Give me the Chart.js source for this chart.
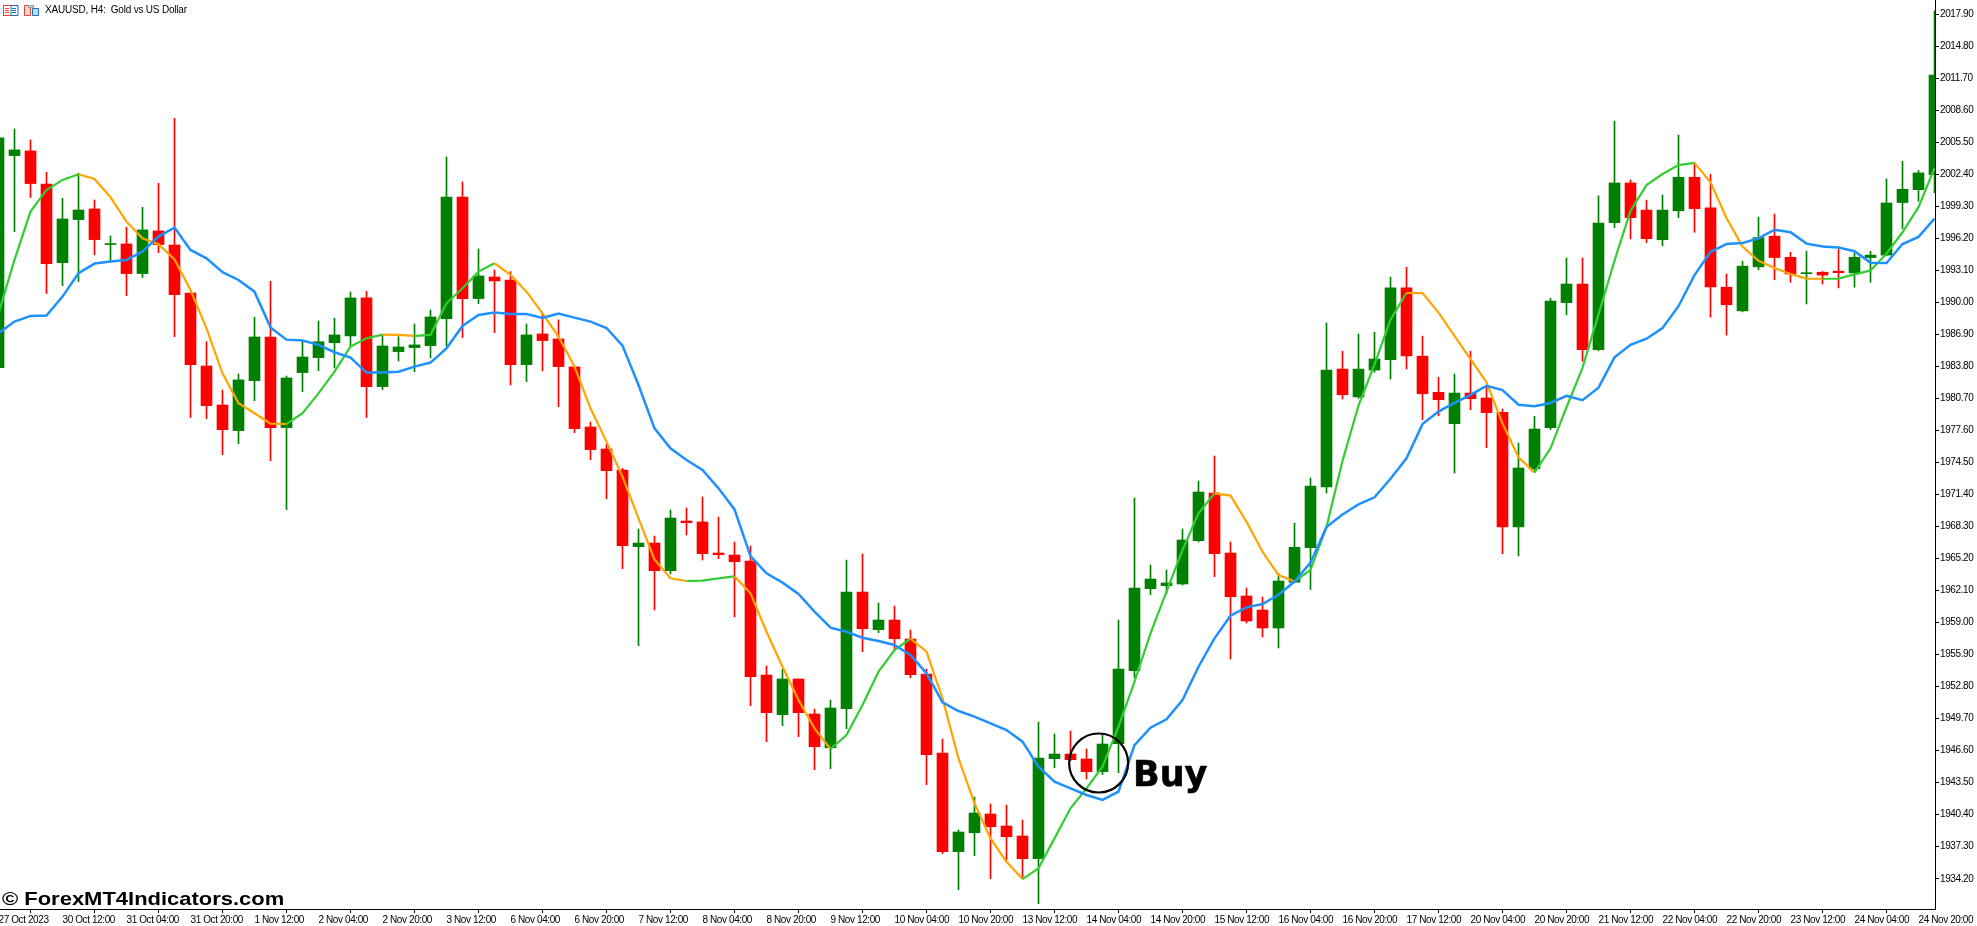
<!DOCTYPE html>
<html>
<head>
  <title>XAUUSD, H4</title>
  <script src="https://cdn.jsdelivr.net/npm/chart.js"></script>
  <style>
    body { margin: 0; background: #fff; }
    #wrap { position: relative; width: 1977px; height: 926px; overflow: hidden; }
    canvas { position: absolute; left: 0; top: 0; }
    #head { position: absolute; left: 45px; top: 4px; font: 10px "Liberation Sans", sans-serif; letter-spacing: -0.2px; color: #000; white-space: pre; }
    #icons { position: absolute; left: 3px; top: 5px; }
    #buy { position: absolute; left: 1133px; top: 754px; font: bold 35px "DejaVu Sans", sans-serif; color: #000; -webkit-text-stroke: 0.6px #000; }
    #mark { position: absolute; left: 2px; top: 888px; font: bold 19px "Liberation Sans", sans-serif; color: #000; white-space: pre; transform: scaleX(1.156); transform-origin: left; }
  </style>
</head>
<body>
  <div id="wrap">
    <canvas id="chart" width="1977" height="926"></canvas>
    <svg id="icons" width="38" height="12">
      <rect x="0.5" y="0.5" width="14" height="10" fill="#fff" stroke="#e8412f"/>
      <path d="M8 0.5h7v10h-7z" fill="#fff" stroke="#1a6fb5"/>
      <path d="M2 3.5h4M2 5.5h4M2 7.5h4" stroke="#e8412f"/>
      <path d="M9 3.5h4M9 5.5h4M9 7.5h4" stroke="#1a6fb5"/>
      <path d="M21.5 0.5h6v10h-6z" fill="#fbd5cf" stroke="#e8412f"/>
      <path d="M29.5 3.5h6v7h-6z" fill="#bcdcf3" stroke="#1a6fb5"/>
      <rect x="25.5" y="0.5" width="5" height="2" fill="#ddd" stroke="#999"/>
    </svg>
    <div id="head">XAUUSD, H4:  Gold vs US Dollar</div>
    <div id="buy">Buy</div>
    <div id="mark">© ForexMT4Indicators.com</div>
  </div>

  <script>
    const opens = [
      1983.71, 2004.25, 2004.70, 2001.50, 1993.88, 1998.05, 1999.08, 1995.63, 1995.69, 1992.82,
      1996.95, 1995.59, 1990.94, 1983.87, 1980.09, 1977.61, 1982.45, 1986.68, 1977.90, 1983.23,
      1984.68, 1986.13, 1986.78, 1990.46, 1981.87, 1985.26, 1985.65, 1985.84, 1988.46, 2000.24,
      1990.40, 1992.49, 1992.20, 1984.00, 1986.97, 1986.49, 1983.78, 1977.96, 1975.83, 1973.79,
      1966.37, 1966.72, 1964.04, 1968.85, 1968.76, 1965.75, 1965.56, 1964.98, 1953.93, 1950.09,
      1953.55, 1950.16, 1946.89, 1950.67, 1961.97, 1958.33, 1959.26, 1957.42, 1954.03, 1946.38,
      1936.82, 1938.66, 1940.47, 1939.31, 1938.34, 1936.14, 1945.83, 1946.28, 1945.80, 1944.57,
      1947.28, 1954.35, 1962.30, 1962.59, 1962.75, 1966.95, 1971.56, 1965.75, 1961.59, 1960.23,
      1958.49, 1962.92, 1966.27, 1972.15, 1983.57, 1980.87, 1983.47, 1984.47, 1991.43, 1984.82,
      1981.32, 1978.28, 1981.25, 1980.77, 1979.39, 1968.28, 1973.92, 1977.90, 1990.01, 1991.81,
      1985.44, 1997.76, 2001.60, 1998.97, 1996.10, 1998.90, 2002.15, 1999.18, 1991.50, 1989.21,
      1993.47, 1996.44, 1994.40, 1992.81, 1992.95, 1993.05, 1992.88, 1994.37, 1994.61, 1999.70,
      2000.95, 2002.39
    ];
    const highs = [
      2006.90, 2006.83, 2005.77, 2002.63, 2000.11, 2002.54, 1999.95, 1996.47, 1997.31, 1999.24,
      2001.57, 2007.86, 1990.94, 1986.22, 1981.55, 1983.10, 1988.59, 1992.07, 1982.90, 1986.23,
      1988.23, 1988.49, 1991.04, 1991.11, 1986.88, 1986.71, 1987.94, 1989.30, 2004.12, 2001.70,
      1995.21, 1993.17, 1993.01, 1987.94, 1988.97, 1988.33, 1983.81, 1978.45, 1976.28, 1973.95,
      1968.08, 1967.40, 1969.92, 1970.11, 1971.18, 1969.24, 1966.82, 1966.43, 1954.81, 1954.51,
      1953.55, 1950.64, 1951.51, 1965.07, 1965.66, 1960.91, 1960.62, 1958.29, 1954.51, 1947.73,
      1938.92, 1942.12, 1941.44, 1941.34, 1939.89, 1949.38, 1948.22, 1948.51, 1946.77, 1948.12,
      1959.26, 1971.08, 1964.59, 1964.11, 1968.08, 1972.73, 1975.15, 1966.82, 1962.36, 1961.49,
      1963.78, 1968.63, 1973.02, 1988.03, 1985.30, 1986.96, 1987.14, 1992.48, 1993.43, 1986.76,
      1982.78, 1983.09, 1985.30, 1981.95, 1979.70, 1976.41, 1979.00, 1990.42, 1994.33, 1994.33,
      2000.35, 2007.58, 2001.88, 1999.94, 2000.42, 2006.24, 2003.54, 2002.43, 1992.78, 1994.02,
      1998.28, 1998.59, 1994.89, 1994.99, 1993.02, 1995.16, 1994.82, 1994.99, 2001.98, 2003.69,
      2002.81, 2018.26
    ];
    const lows = [
      1982.90, 1996.89, 2000.18, 1990.88, 1991.65, 1992.04, 1994.63, 1994.08, 1990.69, 1992.43,
      1994.85, 1986.71, 1978.87, 1978.77, 1975.28, 1976.35, 1980.51, 1974.70, 1969.96, 1981.39,
      1983.42, 1983.68, 1985.81, 1978.87, 1981.58, 1984.36, 1983.32, 1984.65, 1985.81, 1986.62,
      1989.91, 1987.10, 1982.03, 1982.36, 1983.39, 1979.93, 1977.41, 1974.80, 1971.02, 1964.23,
      1956.78, 1960.23, 1963.72, 1967.50, 1965.07, 1965.20, 1959.55, 1950.96, 1947.48, 1949.03,
      1947.96, 1944.76, 1944.86, 1948.74, 1956.20, 1958.03, 1956.36, 1953.68, 1943.31, 1936.63,
      1933.14, 1936.43, 1934.20, 1936.05, 1934.20, 1931.78, 1944.96, 1945.64, 1943.86, 1944.28,
      1944.47, 1953.68, 1961.72, 1961.78, 1962.65, 1966.82, 1963.46, 1955.48, 1958.97, 1957.62,
      1956.55, 1962.85, 1962.22, 1971.57, 1980.67, 1980.73, 1983.26, 1982.60, 1983.57, 1978.66,
      1979.04, 1973.50, 1979.63, 1975.96, 1965.68, 1965.47, 1973.64, 1977.69, 1988.83, 1984.33,
      1985.34, 1997.27, 1996.17, 1995.82, 1995.51, 1998.24, 1996.82, 1988.59, 1986.86, 1989.11,
      1993.19, 1992.22, 1991.98, 1989.87, 1991.81, 1991.43, 1991.50, 1991.98, 1994.57, 1997.17,
      1999.83, 2000.66
    ];
    const closes = [
      2005.96, 2004.80, 2001.54, 1993.79, 1998.11, 1998.98, 1996.11, 1995.69, 1992.82, 1997.05,
      1995.63, 1990.78, 1984.00, 1980.03, 1977.70, 1982.52, 1986.68, 1977.90, 1982.71, 1984.74,
      1986.22, 1986.88, 1990.46, 1981.87, 1985.81, 1985.71, 1985.91, 1988.62, 2000.24, 1990.40,
      1992.59, 1992.11, 1984.00, 1986.88, 1986.33, 1983.81, 1977.80, 1975.77, 1973.73, 1966.46,
      1966.72, 1964.04, 1969.14, 1968.69, 1965.69, 1965.59, 1964.91, 1953.77, 1950.29, 1953.55,
      1950.29, 1946.99, 1950.74, 1961.97, 1958.42, 1959.26, 1957.45, 1953.97, 1946.22, 1936.82,
      1938.73, 1940.57, 1939.24, 1938.27, 1936.14, 1945.89, 1946.28, 1945.73, 1944.57, 1947.25,
      1954.51, 1962.36, 1963.23, 1962.85, 1967.01, 1971.66, 1965.69, 1961.52, 1959.17, 1958.49,
      1963.04, 1966.31, 1972.23, 1983.47, 1981.08, 1983.57, 1984.54, 1991.43, 1984.85, 1981.18,
      1980.60, 1981.25, 1980.70, 1979.35, 1968.28, 1973.99, 1977.76, 1990.15, 1991.81, 1985.44,
      1997.72, 2001.60, 1998.24, 1996.20, 1998.97, 2002.15, 1999.11, 1991.53, 1989.80, 1993.54,
      1996.31, 1994.37, 1992.78, 1992.88, 1992.67, 1992.91, 1994.40, 1994.61, 1999.66, 2000.98,
      2002.57, 2012.05
    ];
    // slow average, blue
    const slowLine = [
      1987.04, 1988.17, 1988.72, 1988.75, 1990.59, 1992.85, 1993.79, 1993.98, 1994.14, 1994.95,
      1996.40, 1997.27, 1995.11, 1994.30, 1992.95, 1992.20, 1991.07, 1987.59, 1986.42, 1986.33,
      1985.91, 1985.20, 1984.68, 1983.23, 1983.23, 1983.32, 1983.81, 1984.20, 1985.58, 1987.75,
      1988.81, 1989.04, 1988.91, 1988.91, 1988.52, 1988.94, 1988.55, 1988.17, 1987.55, 1985.84,
      1982.03, 1977.83, 1975.89, 1974.76, 1973.79, 1972.02, 1969.98, 1965.46, 1963.78, 1962.88,
      1961.78, 1960.07, 1958.52, 1958.13, 1957.55, 1957.23, 1956.84, 1955.87, 1954.10, 1951.29,
      1950.45, 1949.90, 1949.25, 1948.61, 1947.48, 1945.05, 1943.60, 1942.96, 1942.31, 1941.83,
      1942.63, 1947.15, 1948.83, 1949.64, 1951.51, 1954.74, 1957.49, 1959.68, 1960.49, 1960.81,
      1961.71, 1962.99, 1964.82, 1968.28, 1969.49, 1970.46, 1971.15, 1972.95, 1974.92, 1978.24,
      1979.45, 1980.29, 1981.08, 1981.95, 1981.53, 1980.11, 1979.97, 1980.29, 1980.98, 1980.56,
      1981.77, 1984.71, 1985.92, 1986.51, 1987.55, 1989.66, 1992.67, 1994.92, 1995.68, 1995.79,
      1996.23, 1997.07, 1996.82, 1995.72, 1995.44, 1995.34, 1994.99, 1993.88, 1993.85, 1995.68,
      1996.37, 1998.14
    ];
    // fast average, green while rising and orange while falling
    const fastLine = [
      1988.97, 1994.14, 1998.82, 2000.92, 2001.89, 2002.44, 2001.99, 2000.21, 1997.85, 1996.24,
      1995.66, 1994.20, 1991.23, 1987.52, 1983.16, 1980.26, 1979.29, 1978.29, 1978.25, 1979.29,
      1981.22, 1983.32, 1985.75, 1986.55, 1986.91, 1986.88, 1986.78, 1986.88, 1989.94, 1991.40,
      1993.01, 1993.82, 1992.69, 1991.07, 1988.97, 1986.71, 1983.81, 1979.77, 1976.54, 1973.15,
      1969.11, 1965.14, 1963.30, 1963.04, 1963.07, 1963.30, 1963.49, 1961.85, 1958.13, 1954.74,
      1951.51, 1948.77, 1946.77, 1948.12, 1951.03, 1954.26, 1956.36, 1957.45, 1956.20, 1951.67,
      1945.86, 1941.50, 1938.11, 1935.85, 1934.17, 1935.21, 1938.11, 1941.02, 1942.96, 1945.05,
      1948.93, 1953.29, 1957.97, 1962.01, 1966.04, 1969.60, 1971.53, 1971.31, 1968.79, 1965.88,
      1963.61, 1962.99, 1964.13, 1968.28, 1974.68, 1980.04, 1984.02, 1988.35, 1990.94, 1990.93,
      1989.04, 1986.79, 1984.54, 1982.29, 1978.31, 1975.03, 1973.54, 1975.89, 1979.87, 1983.68,
      1988.87, 1994.06, 1998.90, 2001.39, 2002.46, 2003.33, 2003.54, 2001.67, 1998.21, 1995.44,
      1994.06, 1993.36, 1992.78, 1992.33, 1992.32, 1992.33, 1992.74, 1993.12, 1994.75, 1996.82,
      1999.25, 2003.05
    ];
    const priceTicks = [
      2017.9, 2014.8, 2011.7, 2008.6, 2005.5, 2002.4, 1999.3, 1996.2, 1993.1, 1990.0,
      1986.9, 1983.8, 1980.7, 1977.6, 1974.5, 1971.4, 1968.3, 1965.2, 1962.1, 1959.0,
      1955.9, 1952.8, 1949.7, 1946.6, 1943.5, 1940.4, 1937.3, 1934.2
    ];
    const timeLabels = [
      '27 Oct 2023', '30 Oct 12:00', '31 Oct 04:00', '31 Oct 20:00', '1 Nov 12:00', '2 Nov 04:00',
      '2 Nov 20:00', '3 Nov 12:00', '6 Nov 04:00', '6 Nov 20:00', '7 Nov 12:00', '8 Nov 04:00',
      '8 Nov 20:00', '9 Nov 12:00', '10 Nov 04:00', '10 Nov 20:00', '13 Nov 12:00', '14 Nov 04:00',
      '14 Nov 20:00', '15 Nov 12:00', '16 Nov 04:00', '16 Nov 20:00', '17 Nov 12:00', '20 Nov 04:00',
      '20 Nov 20:00', '21 Nov 12:00', '22 Nov 04:00', '22 Nov 20:00', '23 Nov 12:00', '24 Nov 04:00',
      '24 Nov 20:00'
    ];
    const labelStep = 4; // one time label every 4 candles
    const buyIndex = 68.76;
    const buyPrice = 1945.41;

    const candleColor = opens.map((o, i) => closes[i] >= o ? '#008000' : '#ff0000');

    const buyCircle = {
      id: 'buyCircle',
      beforeDraw(chart) {
        // axis labels run tighter than the installed fonts
        chart.ctx.letterSpacing = '-0.4px';
      },
      afterDatasetsDraw(chart) {
        const ctx = chart.ctx;
        ctx.save();
        ctx.beginPath();
        ctx.arc(chart.scales.x.getPixelForValue(buyIndex), chart.scales.y.getPixelForValue(buyPrice), 29.5, 0, Math.PI * 2);
        ctx.lineWidth = 2.2;
        ctx.strokeStyle = '#000';
        ctx.stroke();
        ctx.restore();
      }
    };

    new Chart(document.getElementById('chart'), {
      type: 'bar',
      data: {
        datasets: [
          {
            type: 'line',
            data: slowLine.map((v, i) => ({ x: i, y: v })),
            borderColor: '#1e90ff',
            borderWidth: 2.5,
            pointRadius: 0,
            tension: 0,
            order: 1
          },
          {
            type: 'line',
            data: fastLine.map((v, i) => ({ x: i, y: v })),
            borderColor: '#32cd32',
            borderWidth: 2.2,
            pointRadius: 0,
            tension: 0,
            order: 2,
            segment: {
              borderColor: c => c.p1.parsed.y < c.p0.parsed.y ? '#ffa500' : '#32cd32'
            }
          },
          {
            data: opens.map((o, i) => ({ x: i, y: [o, closes[i]] })),
            backgroundColor: candleColor,
            barThickness: 11,
            minBarLength: 1,
            grouped: false,
            order: 3
          },
          {
            data: lows.map((l, i) => ({ x: i, y: [l, highs[i]] })),
            backgroundColor: candleColor,
            barThickness: 1,
            grouped: false,
            order: 4
          }
        ]
      },
      options: {
        responsive: false,
        animation: false,
        devicePixelRatio: 1,
        layout: { padding: 0 },
        plugins: { legend: { display: false }, tooltip: { enabled: false } },
        scales: {
          x: {
            type: 'linear',
            offset: false,
            min: 0.09375,
            max: 121.03125,
            afterBuildTicks: s => { s.ticks = timeLabels.map((t, k) => ({ value: k * labelStep })); },
            afterFit: s => { s.height = 17; s.paddingLeft = 0; s.paddingRight = 0; },
            grid: { drawOnChartArea: false, tickLength: 4, color: '#000' },
            border: { color: '#000' },
            ticks: {
              autoSkip: false,
              maxRotation: 0,
              align: 'start',
              padding: 1,
              color: '#000',
              font: { family: '"Liberation Sans"', size: 10 },
              callback: v => timeLabels[v / labelStep]
            }
          },
          y: {
            position: 'right',
            min: 1931.27,
            max: 2019.32,
            afterBuildTicks: s => { s.ticks = priceTicks.map(p => ({ value: p })); },
            afterFit: s => { s.width = 42; s.paddingTop = 0; s.paddingBottom = 0; },
            grid: { drawOnChartArea: false, tickLength: 4, color: '#000' },
            border: { color: '#000' },
            ticks: {
              autoSkip: false,
              padding: 1,
              color: '#000',
              font: { family: '"Liberation Sans"', size: 10 },
              callback: v => v.toFixed(2)
            }
          }
        }
      },
      plugins: [buyCircle]
    });
  </script>
</body>
</html>
